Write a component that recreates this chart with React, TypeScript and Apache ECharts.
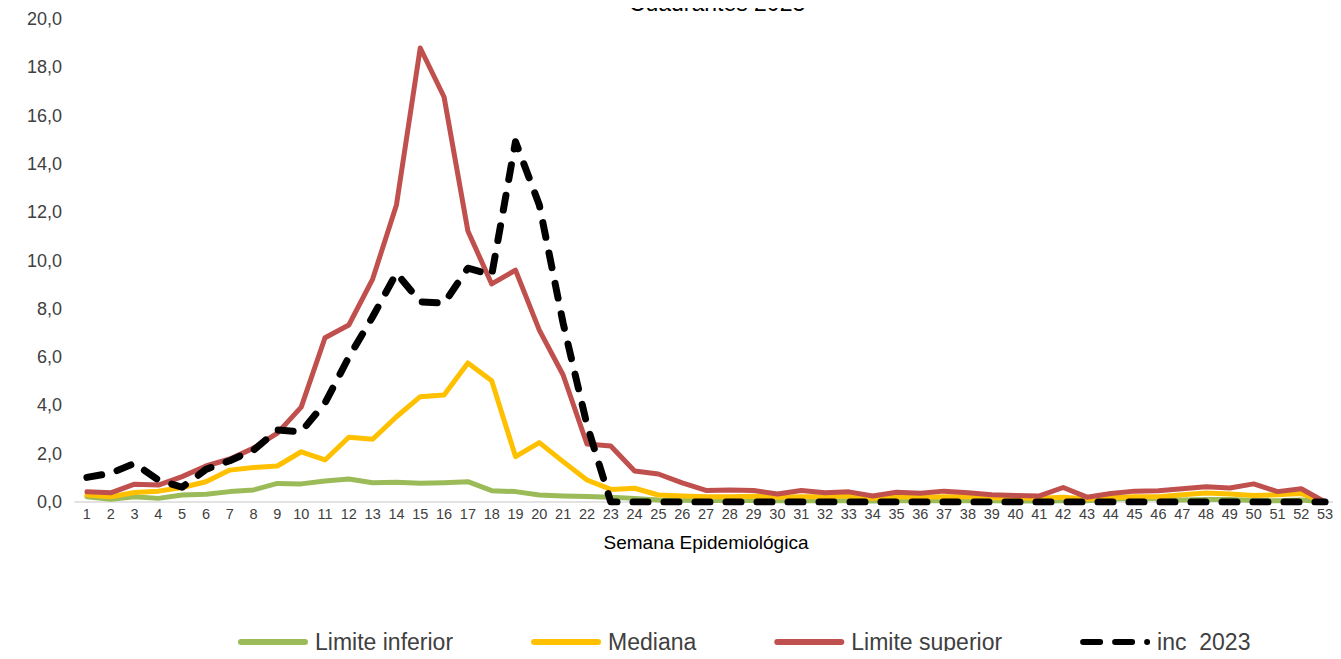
import React, { useEffect, useRef } from "react";
import * as echarts from "echarts";

const weeks: string[] = Array.from({ length: 53 }, (_, i) => String(i + 1));

const limiteInferior: number[] = [
  0.22, 0.11, 0.22, 0.15, 0.29, 0.32, 0.43, 0.5, 0.77, 0.75,
  0.87, 0.95, 0.8, 0.82, 0.78, 0.8, 0.84, 0.47, 0.43, 0.29,
  0.25, 0.23, 0.2, 0.15, 0.08, 0.07, 0.06, 0.06, 0.06, 0.05,
  0.05, 0.05, 0.05, 0.04, 0.05, 0.05, 0.05, 0.05, 0.05, 0.04,
  0.04, 0.05, 0.05, 0.12, 0.15, 0.14, 0.08, 0.1, 0.1, 0.06,
  0.05, 0.08, 0.0,
];

const mediana: number[] = [
  0.29, 0.22, 0.39, 0.45, 0.6, 0.84, 1.32, 1.43, 1.49, 2.08,
  1.74, 2.68, 2.6, 3.53, 4.36, 4.43, 5.76, 5.02, 1.88, 2.46,
  1.67, 0.91, 0.52, 0.57, 0.29, 0.25, 0.22, 0.22, 0.24, 0.2,
  0.22, 0.22, 0.25, 0.15, 0.22, 0.2, 0.22, 0.22, 0.18, 0.17,
  0.16, 0.2, 0.12, 0.18, 0.22, 0.22, 0.3, 0.37, 0.33, 0.27,
  0.3, 0.35, 0.0,
];

const limiteSuperior: number[] = [
  0.42, 0.38, 0.74, 0.7, 1.05, 1.49, 1.78, 2.23, 2.85, 3.93,
  6.8, 7.33, 9.23, 12.3, 18.8, 16.77, 11.22, 9.03, 9.6, 7.12,
  5.26, 2.4, 2.32, 1.28, 1.16, 0.79, 0.48, 0.5, 0.48, 0.33,
  0.48, 0.38, 0.42, 0.25, 0.4, 0.36, 0.45, 0.38, 0.3, 0.27,
  0.25, 0.6, 0.2, 0.35, 0.45, 0.47, 0.55, 0.63, 0.58, 0.75,
  0.43, 0.55, 0.0,
];

const inc2023: number[] = [
  1.02, 1.19, 1.6, 0.91, 0.61, 1.35, 1.71, 2.15, 2.98, 2.91,
  4.1, 6.0, 7.67, 9.48, 8.29, 8.23, 9.68, 9.4, 14.92, 12.3,
  7.4, 3.2, 0, 0, 0, 0, 0, 0, 0, 0,
  0, 0, 0, 0, 0, 0, 0, 0, 0, 0,
  0, 0, 0, 0, 0, 0, 0, 0, 0, 0,
  0, 0, 0,
];

const yTicks = { min: 0, max: 20, interval: 2 };

const FONT = "'Liberation Sans', 'DejaVu Sans', sans-serif";

const SOLID_ICON = "path://M3,0 H67 A3,3 0 0 1 67,6 H3 A3,3 0 0 1 3,0 Z";
const DASH_ICON =
  "path://M3,0 H20 A3,3 0 0 1 20,6 H3 A3,3 0 0 1 3,0 Z M35,0 H52 A3,3 0 0 1 52,6 H35 A3,3 0 0 1 35,0 Z M67,0 A3,3 0 0 1 67,6 A3,3 0 0 1 67,0 Z";

export default function App() {
  const ref = useRef<HTMLDivElement>(null);
  useEffect(() => {
    if (!ref.current) return;
    const chart = echarts.init(ref.current, undefined, { renderer: "svg" });
    const lineSeries = (name: string, data: number[], color: string, width: number, dashed = false) => ({
      name,
      type: "line",
      data,
      symbol: "none",
      smooth: false,
      lineStyle: dashed
        ? { color, width, type: [15, 16], cap: "round", join: "round" }
        : { color, width, cap: "round", join: "round" },
      itemStyle: { color },
      z: dashed ? 5 : 3,
    });
    chart.setOption({
      animation: false,
      backgroundColor: "#ffffff",
      textStyle: { fontFamily: FONT },
      title: {
        text: "Cuadrantes 2023",
        left: 712,
        textAlign: "center",
        top: -14,
        textStyle: { fontFamily: FONT, fontSize: 23, fontWeight: "normal", color: "#000000" },
      },
      grid: { left: 75, right: 4, top: 19, bottom: 157, containLabel: false },
      xAxis: {
        type: "category",
        data: weeks,
        boundaryGap: true,
        name: "Semana Epidemiológica",
        nameLocation: "middle",
        nameGap: 31,
        nameTextStyle: { fontFamily: FONT, fontSize: 19, color: "#000000" },
        axisLine: { show: true, lineStyle: { color: "#d9d9d9", width: 1.5 } },
        axisTick: { show: false },
        axisLabel: { interval: 0, fontFamily: FONT, fontSize: 14.5, color: "#404040", margin: 4 },
        splitLine: { show: false },
      },
      yAxis: {
        type: "value",
        min: yTicks.min,
        max: yTicks.max,
        interval: yTicks.interval,
        axisLine: { show: false },
        axisTick: { show: false },
        splitLine: { show: false },
        axisLabel: {
          fontFamily: FONT,
          fontSize: 18,
          color: "#404040",
          margin: 13,
          formatter: (v: number) => v.toFixed(1).replace(".", ","),
        },
      },
      legend: {
        top: 624,
        left: 233,
        padding: 5,
        itemWidth: 70,
        itemHeight: 6,
        itemGap: 78,
        textStyle: { fontFamily: FONT, fontSize: 23, lineHeight: 26, color: "#404040", padding: [0, 0, 0, 2] },
        data: [
          { name: "Limite inferior", icon: SOLID_ICON },
          { name: "Mediana", icon: SOLID_ICON },
          { name: "Limite superior", icon: SOLID_ICON },
          { name: "inc  2023", icon: DASH_ICON },
        ],
      },
      series: [
        lineSeries("Limite inferior", limiteInferior, "#9bbb59", 5),
        lineSeries("Mediana", mediana, "#ffc000", 5),
        lineSeries("Limite superior", limiteSuperior, "#c0504d", 5),
        lineSeries("inc  2023", inc2023, "#000000", 7, true),
      ],
    });
    return () => chart.dispose();
  }, []);
  return <div ref={ref} style={{ width: 1341, height: 659, margin: -8 }} />;
}
